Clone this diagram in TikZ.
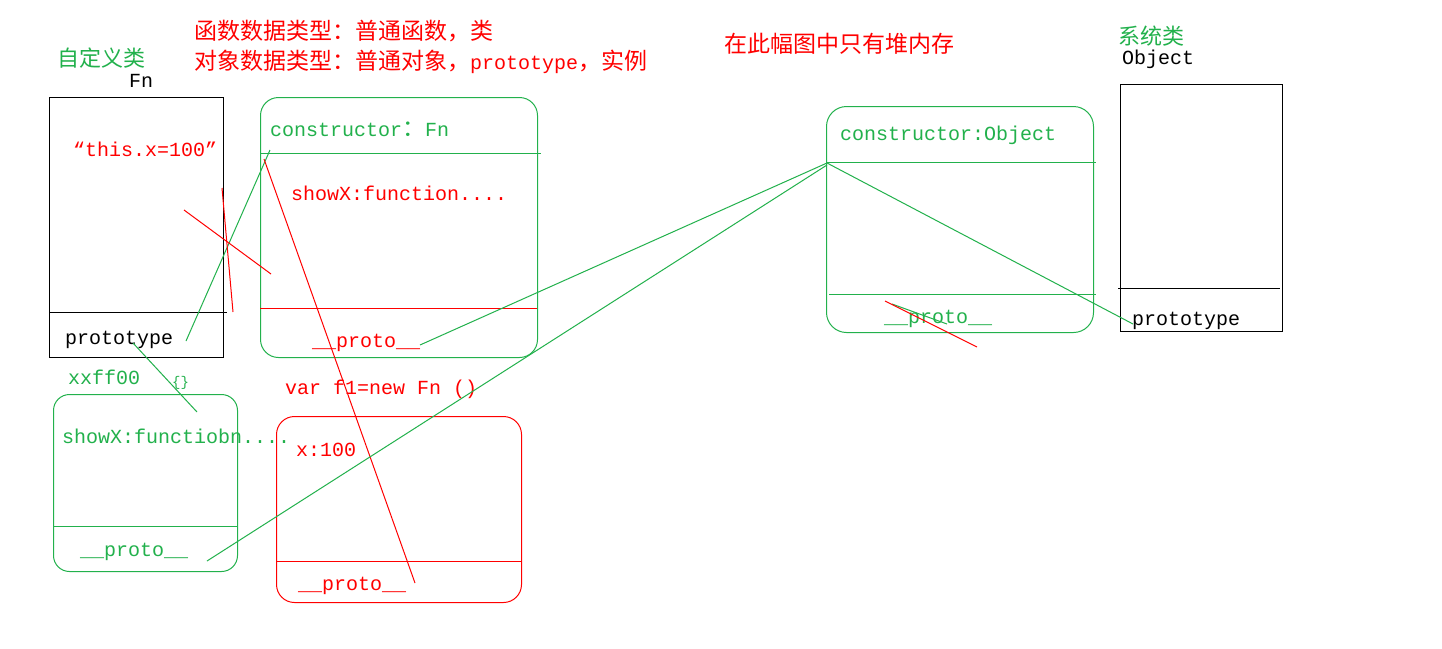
\documentclass[tikz,border=0pt]{standalone}
\usepackage{fontspec}
\setmainfont{Liberation Mono}
\newfontfamily\cjk{Noto Sans CJK SC}
\definecolor{pgreen}{HTML}{22B14C}
\definecolor{pred}{HTML}{FF0000}
\newcommand\zh[1]{{\fontsize{23}{26}\selectfont\cjk #1}}
\tikzset{
  lat/.style={anchor=west, inner sep=0pt, text height=13pt, text depth=3pt, yshift=-1pt, font=\fontsize{20}{22}\selectfont},
  han/.style={anchor=west, inner sep=0pt, text height=17.5pt, text depth=0pt, font=\fontsize{23}{26}\selectfont\cjk},
  box/.style={draw, line width=1pt, inner sep=0pt, anchor=north west},
  gbox/.style={box, draw=pgreen, rounded corners=18pt},
  rbox/.style={box, draw=pred, rounded corners=18pt},
  gline/.style={draw=pgreen, line width=1pt},
  rline/.style={draw=pred, line width=1pt},
  kline/.style={draw=black, line width=1pt}
}
\begin{document}
\begin{tikzpicture}[x=1pt,y=-1pt]
\useasboundingbox[fill=white] (0,0) rectangle (1442,648);

% boxes
\node[box, minimum width=174pt, minimum height=260pt] (fn) at (49,97) {};
\draw[kline] (49,312) -- (227,312);
\node[gbox, minimum width=277pt, minimum height=260pt] (fnp) at (260,97) {};
\draw[gline] (260,153) -- (541,153);
\draw[rline] (260,308) -- (537,308);
\node[gbox, minimum width=184pt, minimum height=177pt, rounded corners=16pt] (xx) at (53,394) {};
\draw[gline] (53,526) -- (237,526);
\node[rbox, minimum width=245pt, minimum height=186pt] (fone) at (276,416) {};
\draw[rline] (276,561) -- (521,561);
\node[gbox, minimum width=267pt, minimum height=226pt, rounded corners=20pt] (objp) at (826,106) {};
\draw[gline] (826,162) -- (1096,162);
\draw[gline] (829,294) -- (1096,294);
\node[box, minimum width=162pt, minimum height=247pt] (obj) at (1120,84) {};
\draw[kline] (1118,288) -- (1280,288);

% texts
\node[han, text=pred] (h1) at (194,31) {函数数据类型：普通函数，类};
\node[han, text=pred] (h2) at (194,61) {对象数据类型：普通对象，{\fontsize{20}{22}\selectfont\rmfamily prototype}，实例};
\node[han, text=pred] (heap) at (724,44) {在此幅图中只有堆内存};
\node[han, text=pgreen, font=\fontsize{22}{24}\selectfont\cjk] (zdy) at (57,58) {自定义类};
\node[han, text=pgreen, font=\fontsize{22}{24}\selectfont\cjk] (xtl) at (1118,36) {系统类};
\node[lat] (fnlab) at (129,81) {Fn};
\node[lat] (objlab) at (1122,58) {Object};
\node[lat, text=pred] (thisx) at (73,150) {“this.x=100”};
\node[lat] (fnproto) at (65,338) {prototype};
\node[lat, text=pgreen] (ctor) at (270,130) {constructor\zh{：}Fn};
\node[lat, text=pred] (showx) at (291,194) {showX:function....};
\node[lat, text=pred] (p1) at (312,341) {\_\_proto\_\_};
\node[lat, text=pgreen] (ctorobj) at (840,134) {constructor:Object};
\node[lat, text=pgreen] (p2) at (884,317) {\_\_proto\_\_};
\node[lat] (objproto) at (1132,319) {prototype};
\node[lat, text=pgreen] (xxff) at (68,378) {xxff00};
\node[lat, text=pgreen, font=\fontsize{14}{16}\selectfont] (brace) at (172,380) {\{\}};
\node[lat, text=pgreen] (showx2) at (62,437) {showX:functiobn....};
\node[lat, text=pgreen] (p3) at (80,550) {\_\_proto\_\_};
\node[lat, text=pred] (newfn) at (285,388) {var f1=new Fn ()};
\node[lat, text=pred] (x100) at (296,450) {x:100};
\node[lat, text=pred] (p4) at (298,584) {\_\_proto\_\_};

% connector end points
\coordinate (a1) at (186,341); \coordinate (a2) at (270,150);
\coordinate (b1) at (264,159); \coordinate (b2) at (415,583);
\coordinate (c1) at (222,188); \coordinate (c2) at (233,312);
\coordinate (d1) at (184,210); \coordinate (d2) at (271,274);
\coordinate (e1) at (420,345); \coordinate (e2) at (827,163);
\coordinate (f1) at (207,561); \coordinate (f2) at (827,165);
\coordinate (g1) at (827,163); \coordinate (g2) at (1133,324);
\coordinate (h1c) at (133,343); \coordinate (h2c) at (197,412);
\coordinate (i1) at (885,301); \coordinate (i2) at (977,347);
\coordinate (j1) at (892,304); \coordinate (j2) at (947,324);

% connectors
\draw[gline] (a1) -- (a2);
\draw[rline] (b1) -- (b2);
\draw[rline] (c1) -- (c2);
\draw[rline] (d1) -- (d2);
\draw[gline] (e1) -- (e2);
\draw[gline] (f1) -- (f2);
\draw[gline] (g1) -- (g2);
\draw[gline] (h1c) -- (h2c);
\draw[gline] (j1) -- (j2);
\draw[rline] (i1) -- (i2);
\end{tikzpicture}
\end{document}
